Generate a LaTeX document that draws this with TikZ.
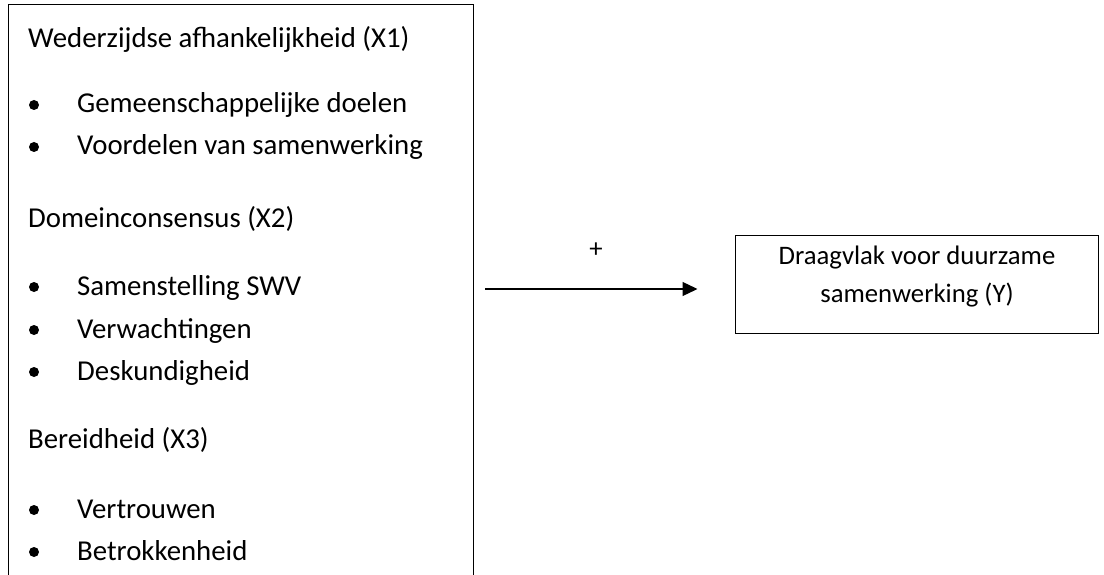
\documentclass[tikz,border=0pt]{standalone}
\usepackage{fontspec}
\setmainfont{Carlito}
\usetikzlibrary{arrows.meta}
\begin{document}
\begin{tikzpicture}[x=1pt,y=-1pt,
  txt/.style={anchor=base west,inner sep=0pt,font=\fontsize{28.8}{34}\selectfont},
  ctxt/.style={anchor=base,inner sep=0pt,font=\fontsize{26.7}{32}\selectfont},
  bul/.style={circle,fill=black,inner sep=0pt,minimum size=10pt},
  boxline/.style={draw=black,line width=1pt},
  conn/.style={line width=1.3pt,-{Triangle[length=15pt,width=14pt]}}]
\useasboundingbox (0,0) rectangle (1104,575);
% left box
\draw[boxline] (8,5) rectangle (473,600);
\node[txt] (h1) at (28,48) {Wederzijdse afhankelijkheid (X1)};
\node[bul] (b1) at (34,105) {};
\node[txt] (t1) at (77,113) {Gemeenschappelijke doelen};
\node[bul] (b2) at (34,147) {};
\node[txt] (t2) at (77,155) {Voordelen van samenwerking};
\node[txt] (h2) at (28,227) {Domeinconsensus (X2)};
\node[bul] (b3) at (34,287) {};
\node[txt] (t3) at (77,295) {Samenstelling SWV};
\node[bul] (b4) at (34,330) {};
\node[txt] (t4) at (77,338) {Verwachtingen};
\node[bul] (b5) at (34,372) {};
\node[txt] (t5) at (77,380) {Deskundigheid};
\node[txt] (h3) at (28,448) {Bereidheid (X3)};
\node[bul] (b6) at (34,510) {};
\node[txt] (t6) at (77,518) {Vertrouwen};
\node[bul] (b7) at (34,552) {};
\node[txt] (t7) at (77,560) {Betrokkenheid};
% right box
\node[boxline,minimum width=363pt,minimum height=98pt,inner sep=0pt] (Y) at (916.5,284) {};
\node[ctxt] (y1) at (917,265) {Draagvlak voor duurzame};
\node[ctxt] (y2) at (917,302) {samenwerking (Y)};
% arrow
\coordinate (s) at (485,289);
\coordinate (e) at (Y.west |- s);
\draw[conn,shorten >=37pt] (s) -- (e);
\node[ctxt] (plus) at (596,258) {+};
\end{tikzpicture}
\end{document}
